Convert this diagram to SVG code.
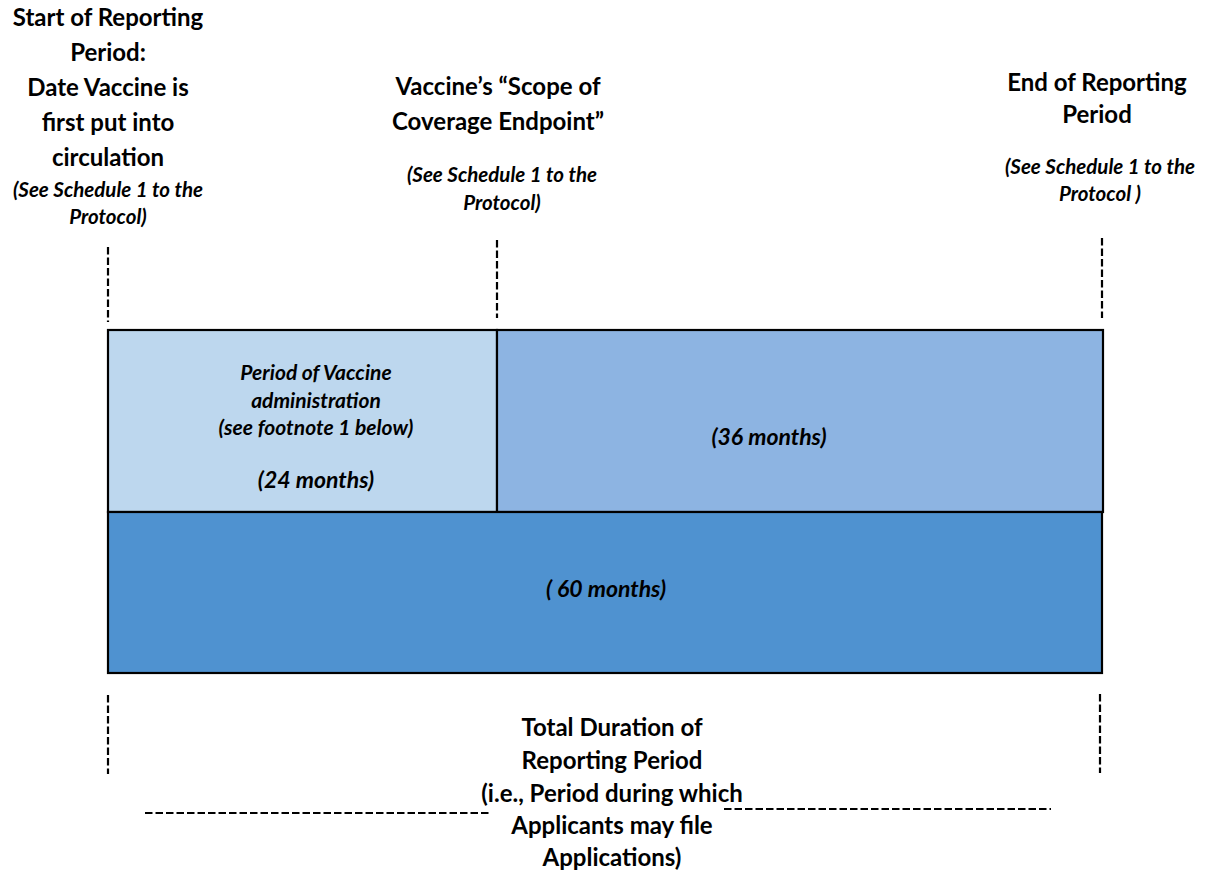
<svg xmlns="http://www.w3.org/2000/svg" width="1209" height="877" viewBox="0 0 1209 877">
<style>
.b{font-family:Lato,"Liberation Sans",sans-serif;font-weight:bold;font-size:24px;fill:#000;text-anchor:middle}
.i{font-family:Lato,"Liberation Sans",sans-serif;font-weight:bold;font-style:italic;font-size:20.5px;fill:#000;text-anchor:middle}
.bx{font-family:Lato,"Liberation Sans",sans-serif;font-weight:bold;font-style:italic;font-size:21px;fill:#000;text-anchor:middle}
.bi{font-family:Lato,"Liberation Sans",sans-serif;font-weight:bold;font-style:italic;font-size:23px;fill:#000;text-anchor:middle}
.dash{stroke:#000;stroke-width:2.2;stroke-dasharray:7.5,3;fill:none}
.box{stroke:#000;stroke-width:2.2}
</style>
<rect width="1209" height="877" fill="#fff"/>
<g id="connectors">
<line class="dash" x1="108" y1="247" x2="108" y2="322"/>
<line class="dash" x1="497" y1="240" x2="497" y2="318"/>
<line class="dash" x1="1102" y1="238" x2="1102" y2="318"/>
<line class="dash" x1="108" y1="695" x2="108" y2="774"/>
<line class="dash" x1="1100" y1="694" x2="1100" y2="773"/>
<line class="dash" x1="145" y1="813" x2="489" y2="813" stroke-dasharray="7,3"/>
<line class="dash" x1="724" y1="809" x2="1051" y2="809" stroke-dasharray="7,3"/>
</g>
<g id="start-label">
<text class="b" x="108" y="26">Start of Reporting</text>
<text class="b" x="108" y="61">Period:</text>
<text class="b" x="108" y="96">Date Vaccine is</text>
<text class="b" x="108" y="131">first put into</text>
<text class="b" x="108" y="166">circulation</text>
<text class="i" x="108" y="197">(See Schedule 1 to the</text>
<text class="i" x="108" y="224">Protocol)</text>
</g>
<g id="endpoint-label">
<text class="b" x="498" y="95">Vaccine’s “Scope of</text>
<text class="b" x="498" y="130">Coverage Endpoint”</text>
<text class="i" x="502" y="182">(See Schedule 1 to the</text>
<text class="i" x="502" y="210">Protocol)</text>
</g>
<g id="end-label">
<text class="b" x="1097" y="91">End of Reporting</text>
<text class="b" x="1097" y="123">Period</text>
<text class="i" x="1100" y="174">(See Schedule 1 to the</text>
<text class="i" x="1100" y="201">Protocol )</text>
</g>
<g id="box-24">
<rect class="box" x="108" y="330" width="389" height="182" fill="#BDD7EE"/>
<text class="bx" x="316" y="380">Period of Vaccine</text>
<text class="bx" x="316" y="408">administration</text>
<text class="bx" x="316" y="435">(see footnote 1 below)</text>
<text class="bi" x="316" y="488">(24 months)</text>
</g>
<g id="box-36">
<rect class="box" x="497" y="330" width="606" height="182" fill="#8DB4E2"/>
<text class="bi" x="769" y="445">(36 months)</text>
</g>
<g id="box-60">
<rect class="box" x="108" y="512" width="994" height="161" fill="#4F92D0"/>
<text class="bi" x="606" y="597">( 60 months)</text>
</g>
<g id="total-label">
<text class="b" x="612" y="736">Total Duration of</text>
<text class="b" x="612" y="769">Reporting Period</text>
<text class="b" x="612" y="802">(i.e., Period during which</text>
<text class="b" x="612" y="834">Applicants may file</text>
<text class="b" x="612" y="866">Applications)</text>
</g>
</svg>
